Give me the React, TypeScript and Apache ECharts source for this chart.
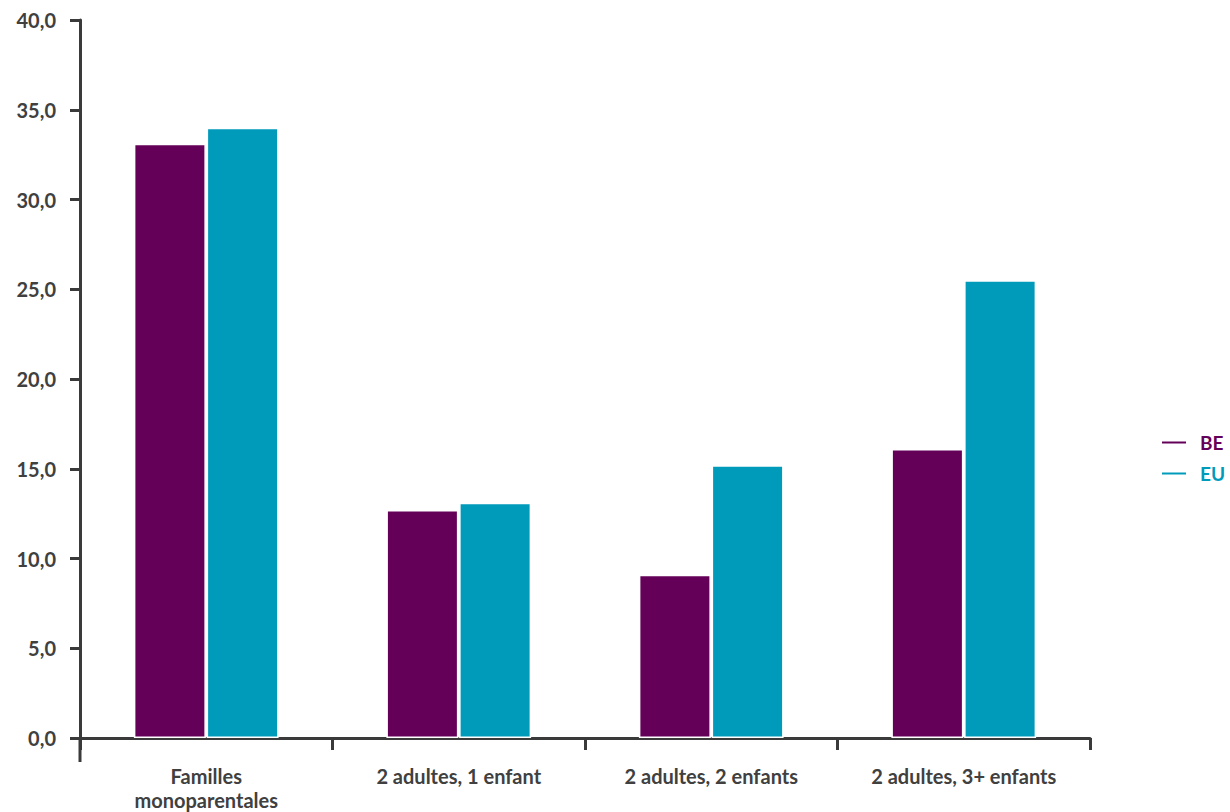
import React, { useEffect, useRef } from "react";
import * as echarts from "echarts";

const categories = ["Familles\nmonoparentales", "2 adultes, 1 enfant", "2 adultes, 2 enfants", "2 adultes, 3+ enfants"];
const seriesNames = ["BE", "EU"];
const beValues = [33.1, 12.7, 9.1, 16.1];
const euValues = [34.0, 13.1, 15.2, 25.5];
const colors = ["#650059", "#009abb"];

export default function App() {
  const ref = useRef<HTMLDivElement>(null);
  useEffect(() => {
    const chart = echarts.init(ref.current!, null, { renderer: "svg" });
    const axisColor = "#3a3a3a";
    const font = "Lato";
    chart.setOption({
      animation: false,
      grid: { left: 80, right: 140, top: 20, bottom: 74, containLabel: false },
      legend: {
        orient: "vertical",
        left: 1155,
        top: 428,
        itemWidth: 26,
        itemHeight: 4,
        itemGap: 12,
        icon: "rect",
        data: seriesNames.map((n, i) => ({
          name: n,
          textStyle: { color: colors[i], fontWeight: "bold", fontSize: 19, fontFamily: font, padding: [0, 0, 0, 8] },
        })),
      },
      xAxis: {
        type: "category",
        data: categories,
        axisLine: { lineStyle: { color: axisColor, width: 3 } },
        axisTick: { show: true, length: 12, lineStyle: { color: axisColor, width: 3 } },
        axisLabel: {
          color: "#404040",
          fontWeight: "bold",
          fontSize: 20,
          fontFamily: font,
          margin: 26,
          lineHeight: 24,
          interval: 0,
        },
      },
      yAxis: {
        type: "value",
        min: 0,
        max: 40,
        interval: 5,
        splitLine: { show: false },
        axisLine: { show: true, lineStyle: { color: axisColor, width: 3 } },
        axisTick: { show: true, length: 10, lineStyle: { color: axisColor, width: 3 } },
        axisLabel: {
          color: "#404040",
          fontWeight: "bold",
          fontSize: 20,
          fontFamily: font,
          margin: 24,
          formatter: (v: number) => v.toFixed(1).replace(".", ","),
        },
      },
      series: [
        {
          name: seriesNames[0],
          type: "bar",
          data: beValues,
          barWidth: 72,
          barGap: "1%",
          itemStyle: { color: colors[0], borderColor: "#ffffff", borderWidth: 1.5 },
        },
        {
          name: seriesNames[1],
          type: "bar",
          data: euValues,
          barWidth: 72,
          barGap: "1%",
          itemStyle: { color: colors[1], borderColor: "#ffffff", borderWidth: 1.5 },
        },
      ],
    });
    // extend the y axis line below the x axis
    const p0 = chart.convertToPixel({ gridIndex: 0 }, [0, 0]) as number[];
    const x0 = 80;
    chart.setOption({
      graphic: [
        {
          type: "line",
          shape: { x1: x0, y1: p0[1], x2: x0, y2: p0[1] + 24 },
          style: { stroke: axisColor, lineWidth: 3 },
        },
      ],
    });
    return () => chart.dispose();
  }, []);
  return <div ref={ref} style={{ width: 1230, height: 812, position: "absolute", left: 0, top: 0 }} />;
}
